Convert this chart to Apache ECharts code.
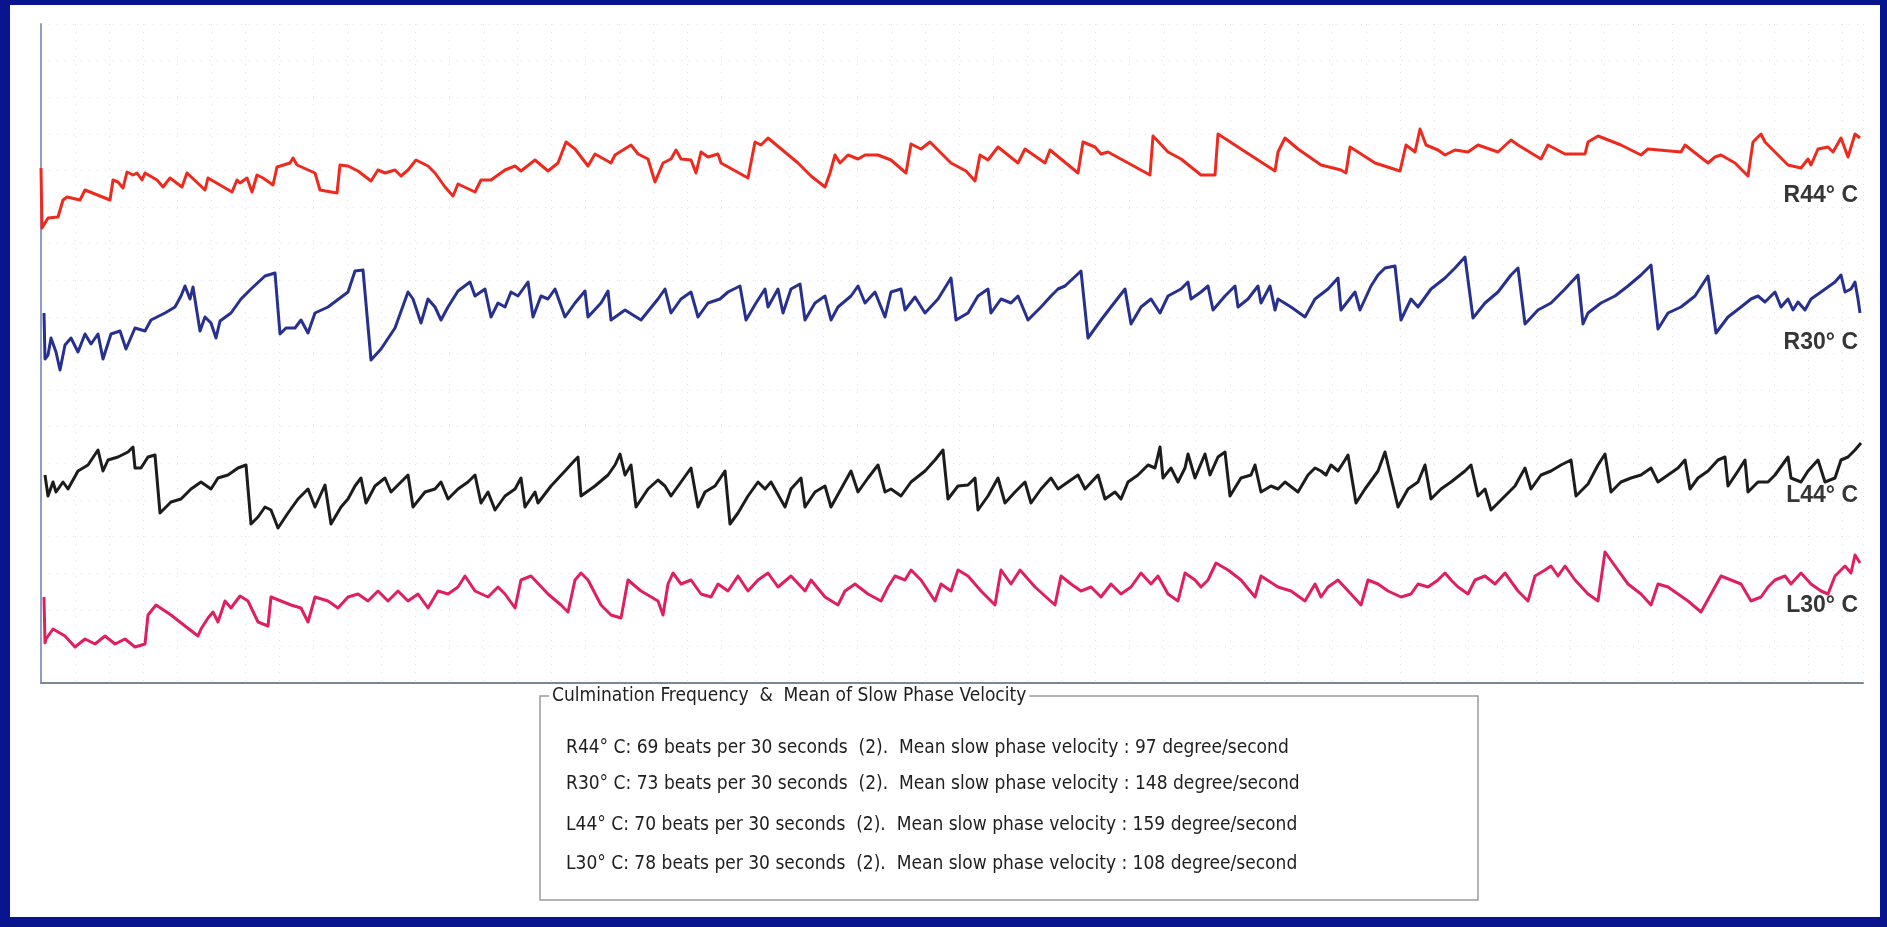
<!DOCTYPE html>
<html>
<head>
<meta charset="utf-8">
<script src="https://cdn.jsdelivr.net/npm/echarts@6/dist/echarts.min.js"></script>
<style>
html,body{margin:0;padding:0;background:#08158f;}
#chart{width:1887px;height:927px;}
</style>
</head>
<body>
<div id="chart"></div>
<script>
// Traces: [sample, deflection] (deflection grows downward on screen)
const R44 = [[41,168],[42,228],[48,218],[58,217],[63,200],[67,197],[80,200],[85,190],[90,192],[110,200],[113,180],[118,182],[123,188],[127,172],[133,175],[137,173],[142,180],[145,173],[157,180],[163,187],[170,178],[182,187],[187,173],[205,190],[208,178],[232,192],[237,180],[240,183],[247,178],[252,192],[257,175],[263,178],[273,185],[277,167],[290,163],[293,158],[297,165],[315,173],[320,190],[337,193],[340,165],[348,166],[358,171],[371,181],[378,170],[385,173],[395,170],[401,176],[408,170],[416,160],[428,166],[435,173],[445,187],[453,196],[458,184],[475,192],[481,180],[491,180],[505,170],[515,166],[521,171],[535,160],[548,171],[558,163],[566,142],[575,149],[588,166],[595,154],[611,163],[615,155],[631,145],[638,154],[648,159],[655,182],[663,163],[671,159],[676,150],[681,159],[691,160],[696,173],[701,152],[708,157],[718,154],[721,163],[748,178],[755,142],[761,145],[768,138],[798,163],[811,176],[825,187],[830,173],[835,155],[840,163],[848,155],[858,159],[865,155],[878,155],[891,160],[906,173],[911,144],[921,149],[930,142],[951,163],[966,171],[975,181],[980,155],[988,160],[998,147],[1018,163],[1025,149],[1045,163],[1050,150],[1078,173],[1083,142],[1095,147],[1101,154],[1108,152],[1150,175],[1153,136],[1168,152],[1181,159],[1201,175],[1215,175],[1218,134],[1241,149],[1275,171],[1278,152],[1285,138],[1298,149],[1321,165],[1341,170],[1346,173],[1350,147],[1358,152],[1375,163],[1400,171],[1406,145],[1415,152],[1420,129],[1426,145],[1438,150],[1445,155],[1455,150],[1468,152],[1478,145],[1498,152],[1511,140],[1518,145],[1541,159],[1548,145],[1565,154],[1585,154],[1588,142],[1598,136],[1621,145],[1641,155],[1648,149],[1681,152],[1685,145],[1708,163],[1715,157],[1721,155],[1728,159],[1735,163],[1748,176],[1753,142],[1761,134],[1765,142],[1788,165],[1801,168],[1808,159],[1811,165],[1818,149],[1828,147],[1833,152],[1841,138],[1848,157],[1855,134],[1860,138]];

const R30 = [[44,313],[45,359],[48,355],[51,338],[56,352],[60,370],[65,345],[71,338],[78,352],[85,334],[91,344],[98,334],[103,359],[111,334],[120,331],[126,349],[135,328],[145,331],[151,320],[165,313],[175,307],[181,296],[185,286],[190,299],[193,287],[200,331],[205,317],[211,323],[216,338],[220,321],[231,313],[241,299],[251,289],[265,276],[275,273],[280,334],[286,328],[295,328],[301,320],[308,333],[315,313],[328,307],[348,292],[355,271],[363,270],[371,360],[381,349],[395,328],[408,292],[413,299],[421,323],[428,299],[435,307],[441,320],[448,307],[458,291],[470,282],[475,296],[485,289],[491,317],[498,303],[505,307],[511,292],[518,296],[528,282],[533,317],[541,296],[548,299],[555,289],[565,317],[575,303],[585,291],[588,317],[601,303],[608,291],[611,320],[625,310],[641,320],[658,299],[665,289],[671,313],[681,299],[691,292],[698,317],[708,303],[720,299],[728,292],[740,286],[746,320],[756,303],[765,289],[768,307],[778,289],[783,313],[791,289],[800,284],[805,320],[815,303],[825,296],[831,320],[838,307],[851,296],[858,286],[865,303],[875,292],[885,317],[891,292],[901,289],[905,310],[915,297],[925,313],[938,299],[951,278],[956,320],[968,313],[978,296],[988,289],[991,313],[1001,299],[1011,303],[1018,296],[1028,320],[1041,307],[1051,296],[1058,289],[1065,286],[1081,271],[1088,338],[1101,320],[1111,307],[1125,289],[1131,324],[1141,307],[1151,299],[1160,313],[1168,296],[1181,289],[1188,282],[1191,299],[1201,292],[1208,286],[1213,310],[1225,296],[1235,286],[1238,307],[1248,299],[1258,286],[1261,303],[1270,286],[1275,310],[1278,299],[1291,307],[1305,317],[1315,299],[1328,289],[1338,278],[1341,310],[1355,292],[1360,310],[1371,286],[1378,275],[1385,268],[1395,266],[1401,320],[1411,299],[1418,307],[1431,289],[1445,278],[1455,268],[1465,257],[1473,318],[1485,303],[1498,292],[1511,275],[1518,268],[1525,324],[1538,310],[1551,303],[1565,289],[1578,275],[1583,324],[1588,313],[1601,303],[1615,296],[1628,286],[1641,275],[1651,265],[1658,329],[1668,313],[1681,307],[1695,296],[1708,276],[1716,333],[1728,317],[1741,307],[1751,299],[1758,296],[1765,302],[1775,292],[1781,307],[1788,299],[1793,310],[1798,302],[1805,310],[1811,299],[1821,292],[1835,282],[1841,275],[1845,292],[1851,289],[1855,282],[1858,299],[1860,313]];

const L44 = [[45,475],[48,496],[53,482],[56,492],[63,482],[68,489],[78,471],[88,465],[98,450],[103,471],[108,460],[118,457],[128,452],[133,447],[135,468],[141,468],[148,457],[155,455],[160,513],[171,502],[181,499],[191,489],[201,482],[211,489],[218,478],[228,475],[238,468],[246,465],[251,524],[258,517],[265,507],[271,510],[278,528],[288,513],[298,499],[308,489],[315,507],[325,485],[331,524],[341,507],[348,499],[355,486],[361,478],[366,503],[375,486],[385,478],[391,492],[401,482],[408,475],[413,507],[425,492],[435,489],[441,482],[448,499],[458,489],[468,482],[475,475],[481,503],[488,492],[495,510],[505,496],[515,489],[521,478],[525,507],[535,492],[538,503],[551,486],[565,471],[575,460],[578,457],[581,496],[595,486],[608,475],[615,465],[620,454],[625,475],[631,465],[636,507],[648,489],[658,480],[665,486],[671,496],[681,482],[691,468],[698,507],[705,492],[715,486],[725,471],[730,524],[738,513],[748,496],[758,482],[765,489],[771,482],[785,507],[791,489],[801,478],[805,507],[815,492],[825,486],[831,507],[841,489],[851,471],[858,492],[868,478],[878,465],[885,492],[891,489],[901,496],[911,482],[925,471],[935,460],[943,450],[948,499],[958,486],[968,485],[975,478],[978,510],[988,496],[998,478],[1005,503],[1015,492],[1025,482],[1031,503],[1041,489],[1051,478],[1058,489],[1068,482],[1078,475],[1085,489],[1098,475],[1105,499],[1115,492],[1121,499],[1128,482],[1138,475],[1148,465],[1155,468],[1160,447],[1163,478],[1171,468],[1178,482],[1185,468],[1188,454],[1195,478],[1205,454],[1210,475],[1218,457],[1225,452],[1230,496],[1241,478],[1251,475],[1255,465],[1261,492],[1271,486],[1278,489],[1285,482],[1298,492],[1308,475],[1315,468],[1321,471],[1326,475],[1331,465],[1338,471],[1345,460],[1348,455],[1356,503],[1365,489],[1378,471],[1385,452],[1398,507],[1408,489],[1418,482],[1425,465],[1431,499],[1441,489],[1451,482],[1465,471],[1471,465],[1478,496],[1485,489],[1491,510],[1505,496],[1515,486],[1525,468],[1531,489],[1541,475],[1551,471],[1561,465],[1571,460],[1576,496],[1588,484],[1598,465],[1605,454],[1611,492],[1621,482],[1631,478],[1641,475],[1651,468],[1658,482],[1668,475],[1678,468],[1685,460],[1690,489],[1698,478],[1708,471],[1718,460],[1725,457],[1728,486],[1738,471],[1745,460],[1748,492],[1758,482],[1768,482],[1775,475],[1788,457],[1791,478],[1801,482],[1808,471],[1818,460],[1825,482],[1835,478],[1841,460],[1848,457],[1855,450],[1861,443]];

const L30 = [[44,597],[45,643],[46,639],[53,629],[65,636],[75,647],[85,639],[95,644],[105,636],[115,644],[125,639],[135,647],[145,644],[148,615],[156,605],[171,615],[185,626],[198,636],[201,629],[208,618],[213,612],[218,622],[225,601],[231,608],[240,596],[248,601],[258,622],[268,626],[271,597],[281,601],[291,605],[301,608],[308,622],[315,597],[328,601],[338,608],[348,597],[358,594],[368,601],[378,591],[388,601],[398,591],[408,601],[418,594],[428,608],[438,591],[448,594],[458,587],[465,576],[475,591],[488,597],[498,587],[505,594],[515,608],[521,580],[531,576],[548,594],[561,605],[568,612],[575,580],[581,573],[588,580],[601,605],[611,615],[621,618],[628,580],[641,591],[658,601],[663,615],[668,584],[673,573],[681,584],[691,580],[701,594],[711,597],[718,584],[728,591],[738,576],[748,591],[758,580],[768,573],[778,587],[791,576],[805,591],[811,580],[825,597],[838,605],[845,591],[855,584],[868,594],[881,601],[888,587],[895,576],[905,580],[911,570],[921,580],[935,601],[941,584],[951,591],[958,570],[968,576],[981,591],[995,605],[1001,570],[1011,584],[1020,570],[1035,587],[1055,605],[1061,576],[1071,584],[1081,591],[1091,587],[1101,597],[1111,584],[1121,594],[1131,587],[1141,573],[1151,584],[1158,576],[1168,594],[1178,601],[1185,573],[1195,580],[1201,587],[1208,580],[1216,563],[1228,570],[1241,580],[1255,597],[1261,576],[1278,587],[1291,591],[1305,601],[1315,584],[1321,597],[1328,587],[1338,580],[1351,594],[1361,605],[1368,580],[1378,584],[1388,591],[1401,597],[1411,594],[1418,584],[1428,587],[1438,580],[1445,573],[1451,580],[1458,587],[1468,594],[1475,580],[1485,576],[1495,584],[1505,573],[1518,591],[1528,601],[1535,576],[1545,570],[1551,566],[1558,576],[1565,566],[1575,580],[1588,594],[1598,601],[1605,552],[1615,566],[1628,584],[1641,594],[1651,605],[1658,584],[1668,587],[1678,594],[1688,601],[1701,612],[1711,594],[1721,576],[1731,580],[1741,584],[1751,601],[1761,597],[1768,587],[1775,580],[1785,576],[1791,584],[1801,573],[1811,584],[1821,591],[1828,594],[1835,576],[1845,566],[1851,573],[1855,555],[1860,563]];

const traceNames = ['R44° C', 'R30° C', 'L44° C', 'L30° C'];
const beats = [69, 73, 70, 78];
const velocities = [97, 148, 159, 108];
const summaryTitle = 'Culmination Frequency  &  Mean of Slow Phase Velocity';

const colors = ['#ee2a1f', '#27308f', '#1c1c1c', '#e0205e'];
const traces = [R44, R30, L44, L30];

const chart = echarts.init(document.getElementById('chart'), null, {renderer: 'canvas'});

const series = traces.map((d, i) => ({
  name: traceNames[i],
  type: 'line',
  xAxisIndex: 0,
  yAxisIndex: 0,
  data: d,
  showSymbol: false,
  symbol: 'none',
  lineStyle: {color: colors[i], width: 3, join: 'round'},
  itemStyle: {color: colors[i]},
  z: 5
}));

const labelY = [196, 343, 496, 606];
const graphics = [];
// right-end trace labels
traceNames.forEach((n, i) => {
  graphics.push({
    type: 'text', x: 1858, y: labelY[i], z: 50,
    style: {text: n, fill: '#363636', fontSize: 23, fontWeight: 'bold',
      fontFamily: '"Liberation Sans", Arial, sans-serif', align: 'right', verticalAlign: 'middle'}
  });
});
// summary box
graphics.push({
  type: 'rect', z: 40,
  shape: {x: 540, y: 696, width: 938, height: 204},
  style: {fill: 'none', stroke: '#9a9a9a', lineWidth: 1.5}
});
graphics.push({
  type: 'text', x: 549, y: 696, z: 45,
  style: {text: summaryTitle, fill: '#1e1e1e', fontSize: 19,
    fontFamily: '"Liberation Sans Narrow", "DejaVu Sans Condensed", sans-serif',
    verticalAlign: 'middle', backgroundColor: '#ffffff', padding: [2, 3, 2, 3]}
});
const lineY = [748, 784, 825, 864];
traceNames.forEach((n, i) => {
  graphics.push({
    type: 'text', x: 566, y: lineY[i], z: 45,
    style: {text: n + ': ' + beats[i] + ' beats per 30 seconds  (2).  Mean slow phase velocity : ' + velocities[i] + ' degree/second',
      fill: '#1e1e1e', fontSize: 19,
      fontFamily: '"Liberation Sans Narrow", "DejaVu Sans Condensed", sans-serif',
      verticalAlign: 'middle'}
  });
});
// navy frame
const frame = '#08158f';
graphics.push({type: 'rect', z: 100, shape: {x: 0, y: 0, width: 1887, height: 5}, style: {fill: frame}});
graphics.push({type: 'rect', z: 100, shape: {x: 0, y: 917, width: 1887, height: 10}, style: {fill: frame}});
graphics.push({type: 'rect', z: 100, shape: {x: 0, y: 0, width: 10, height: 927}, style: {fill: frame}});
graphics.push({type: 'rect', z: 100, shape: {x: 1880, y: 0, width: 7, height: 927}, style: {fill: frame}});

const option = {
  animation: false,
  backgroundColor: '#ffffff',
  grid: {left: 41, right: 24, top: 24, bottom: 244, containLabel: false},
  xAxis: [
    {type: 'value', min: 41, max: 1863, position: 'bottom',
      axisLine: {show: true, onZero: false, lineStyle: {color: '#7c8796', width: 2}},
      axisTick: {show: false}, axisLabel: {show: false}, splitLine: {show: false}},
    {type: 'value', min: 0, max: 53.6, interval: 1, position: 'top',
      axisLine: {show: false}, axisTick: {show: false}, axisLabel: {show: false},
      splitLine: {show: true, lineStyle: {color: '#e2e2e2', width: 1, type: [1, 7]}}}
  ],
  yAxis: [
    {type: 'value', inverse: true, min: 24, max: 683,
      axisLine: {show: true, onZero: false, lineStyle: {color: '#8f9cc9', width: 2}},
      axisTick: {show: false}, axisLabel: {show: false}, splitLine: {show: false}},
    {type: 'value', min: 0, max: 18, interval: 1, position: 'right',
      axisLine: {show: false}, axisTick: {show: false}, axisLabel: {show: false},
      splitLine: {show: true, lineStyle: {color: '#e2e2e2', width: 1, type: [1, 7]}}}
  ],
  series: series,
  graphic: {elements: graphics}
};
chart.setOption(option);
</script>
</body>
</html>
